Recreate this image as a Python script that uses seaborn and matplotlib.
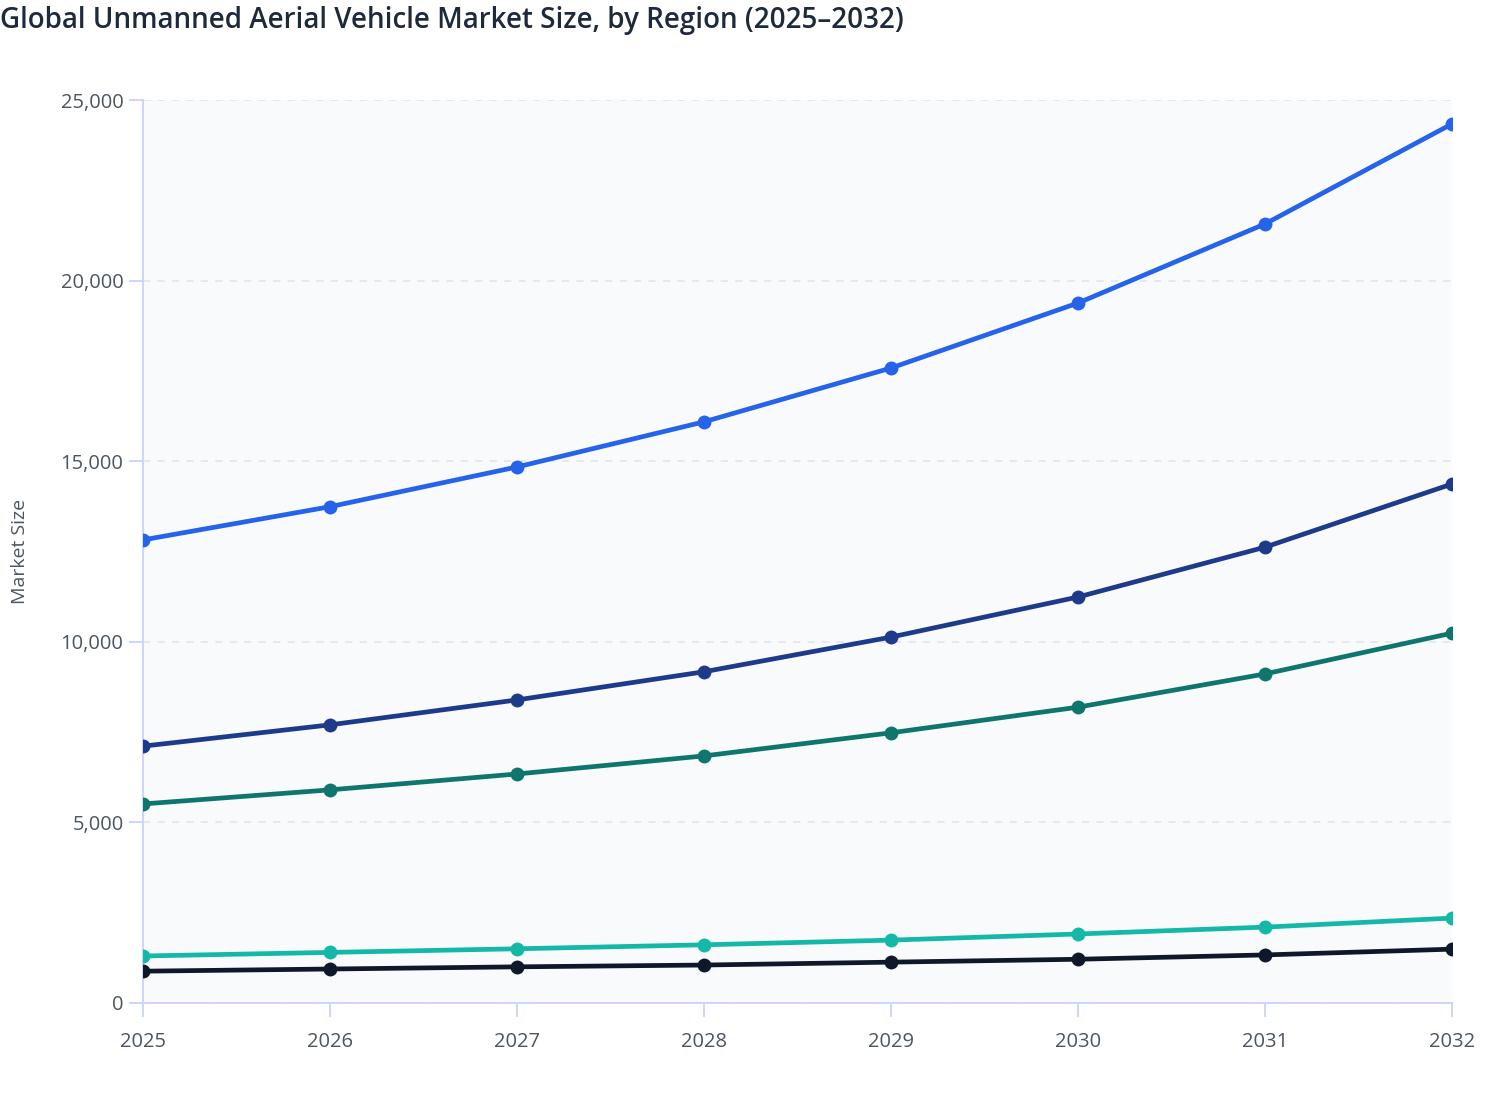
import pandas as pd
import numpy as np
import matplotlib.pyplot as plt
import seaborn as sns
from matplotlib.ticker import FuncFormatter

# Data
years = [2025, 2026, 2027, 2028, 2029, 2030, 2031, 2032]
north_america = [12820, 13740, 14840, 16090, 17580, 19380, 21570, 24340]
asia_pacific = [7110, 7700, 8390, 9170, 10130, 11240, 12620, 14370]
europe = [5510, 5900, 6340, 6840, 7480, 8190, 9110, 10240]
latin_america = [1300, 1400, 1500, 1610, 1740, 1910, 2100, 2350]
mea = [880, 940, 1000, 1050, 1130, 1210, 1330, 1490]

regions = ['North America', 'Asia Pacific', 'Europe', 'Latin America', 'Middle East & Africa']
colors = ['#2563eb', '#1e3a8a', '#0f766e', '#14b8a6', '#0f172a']
series = [north_america, asia_pacific, europe, latin_america, mea]

df = pd.DataFrame({
    'Year': years * len(regions),
    'Market Size': sum(series, []),
    'Region': [r for r in regions for _ in years],
})

sns.set_theme(style='white')
plt.rcParams['font.family'] = ['Open Sans', 'DejaVu Sans']

fig = plt.figure(figsize=(15.08, 11.2), dpi=100)
ax = fig.add_axes([0.0948, 0.1045, 0.8681, 0.8062])
ax.set_facecolor('#f8fafc')

sns.lineplot(data=df, x='Year', y='Market Size', hue='Region',
             palette=dict(zip(regions, colors)), linewidth=3.4,
             marker='o', markersize=10, markeredgewidth=0,
             legend=False, ax=ax, zorder=3)

ax.set_xlim(2025, 2032)
ax.set_ylim(0, 25000)
ax.set_xticks(years)
ax.set_yticks(range(0, 25001, 5000))
ax.yaxis.set_major_formatter(FuncFormatter(lambda v, p: f'{int(v):,}'))

ax.grid(axis='y', color='#e2e8f0', linestyle=(0, (4, 4)), linewidth=1.3)
ax.grid(axis='x', visible=False)
ax.set_axisbelow(True)

for s in ['top', 'right']:
    ax.spines[s].set_visible(False)
for s in ['left', 'bottom']:
    ax.spines[s].set_color('#c7d2fe')
    ax.spines[s].set_linewidth(1.3)

ax.tick_params(axis='both', colors='#c7d2fe', length=10, width=1.3,
               labelcolor='#4b5563', labelsize=14.5, direction='out',
               bottom=True, left=True)
ax.tick_params(axis='x', pad=11)
ax.tick_params(axis='y', pad=4)

ax.set_xlabel('')
ax.set_ylabel('Market Size', color='#4b5563', fontsize=14, labelpad=23)

fig.text(0.0, 0.995, 'Global Unmanned Aerial Vehicle Market Size, by Region (2025\u20132032)',
         ha='left', va='top', fontsize=20, color='#1e293b', fontweight='semibold')

fig.savefig('out.png', dpi=100, facecolor='white')
